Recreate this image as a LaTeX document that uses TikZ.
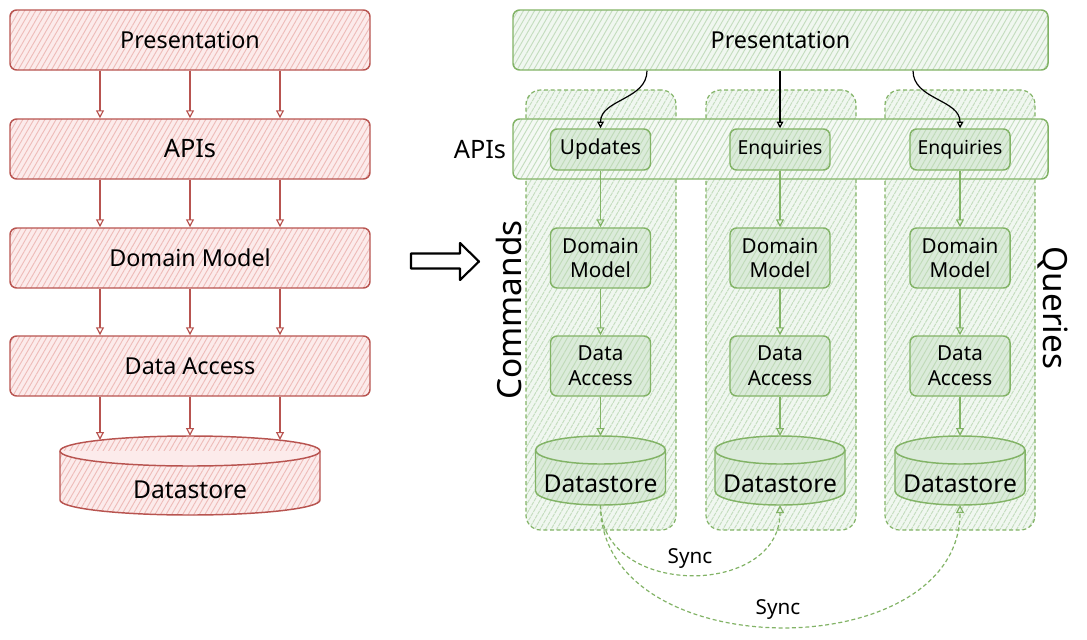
\documentclass[tikz,border=0pt]{standalone}
\usepackage{fontspec}
\setmainfont{Noto Sans}
\usetikzlibrary{patterns.meta,arrows.meta,calc}
\definecolor{redS}{HTML}{B85450}
\definecolor{redF}{HTML}{F8CECC}
\definecolor{grnS}{HTML}{82B366}
\definecolor{grnF}{HTML}{D5E8D4}
\def\px{0.75pt}
\newcommand\cylpath[4]{% node, rx, ry, colours
  \path[#4] ($(#1.north west)+(0,#3)$) -- ($(#1.south west)+(0,-#3)$)
     arc[start angle=180,end angle=360,x radius=#2*\px,y radius=#3*\px]
     -- ($(#1.north east)+(0,#3)$)
     arc[start angle=0,end angle=180,x radius=#2*\px,y radius=#3*\px] -- cycle;
  \path[#4,pattern=none,preaction={}] ($(#1.north west)+(0,#3)$)
     arc[start angle=180,end angle=360,x radius=#2*\px,y radius=#3*\px];
}
\tikzset{
  hatchR/.style={preaction={fill=redF!40}, pattern={Lines[angle=60,distance=3.6pt,line width=0.7pt]}, pattern color=redF!85!redS},
  hatchG/.style={preaction={fill=grnF!35}, pattern={Lines[angle=60,distance=3.6pt,line width=0.7pt]}, pattern color=grnF!80!grnS},
  redbox/.style={hatchR, draw=redS, line width=1.1pt, rounded corners=5pt, minimum width=360*\px, minimum height=60*\px, font=\fontsize{17.5}{21}\selectfont},
  gbox/.style={hatchG, draw=grnS, line width=1.1pt, rounded corners=5pt, minimum width=535*\px, minimum height=60*\px, font=\fontsize{17.5}{21}\selectfont},
  gcont/.style={hatchG, draw=grnS, line width=0.9pt, dash pattern=on 3pt off 2pt, rounded corners=11pt, minimum width=150*\px, minimum height=440*\px},
  gband/.style={preaction={fill=grnF!25}, pattern={Lines[angle=60,distance=3.6pt,line width=0.7pt]}, pattern color=grnF!80!grnS, draw=grnS, line width=1.1pt, rounded corners=5pt, minimum width=535*\px, minimum height=60*\px},
  gin/.style={preaction={fill=grnF!85}, pattern={Lines[angle=60,distance=3.6pt,line width=0.7pt]}, pattern color=grnF!75!grnS, draw=grnS, line width=1.1pt, rounded corners=5pt, minimum width=100*\px, minimum height=60*\px, align=center, font=\fontsize{15.5}{18.5}\selectfont, inner sep=1pt},
  hole/.style={inner sep=0pt, outer sep=0pt},
  rarrow/.style={draw=redS, line width=0.9pt, -{Triangle[open,length=6pt,width=6pt]}},
  garrow/.style={draw=grnS, line width=0.9pt, -{Triangle[open,length=6pt,width=6pt]}},
  barrow/.style={draw=black, line width=0.9pt, -{Triangle[open,length=5pt,width=5pt]}},
  sarrow/.style={draw=grnS, line width=0.9pt, dash pattern=on 3pt off 2pt, -{Triangle[open,length=6pt,width=6pt]}},
  lbl/.style={font=\fontsize{18.5}{22}\selectfont},
  slbl/.style={font=\fontsize{15.5}{18}\selectfont},
  big/.style={font=\fontsize{25}{30}\selectfont},
}
\begin{document}
\begin{tikzpicture}[x=0.75pt,y=-0.75pt]
\useasboundingbox (0,0) rectangle (1087,639);

% ---------- left stack ----------
\node[redbox] (presL) at (190,40) {Presentation};
\node[redbox, font=\fontsize{19}{22}\selectfont] (apiL) at (190,149) {APIs};
\node[redbox] (dmL) at (190,258) {Domain Model};
\node[redbox] (daL) at (190,366) {Data Access};
\node[hole, minimum width=260*\px, minimum height=79*\px] (dsL) at (190,475.5) {};
\cylpath{dsL}{130}{15}{hatchR, draw=redS, line width=1.1pt}
\node[lbl] (dsLt) at (190,490) {Datastore};

\coordinate (xa) at (100,0);
\coordinate (xc) at (280,0);
\foreach \a/\b in {presL/apiL, apiL/dmL, dmL/daL}{
  \draw[rarrow] (\a.south -| xa) -- (\b.north -| xa);
  \draw[rarrow] (\a) -- (\b);
  \draw[rarrow] (\a.south -| xc) -- (\b.north -| xc);
}
\draw[rarrow] (daL.south -| xa) -- ($(dsL.north -| xa)+(0,4)$);
\draw[rarrow] (daL) -- (dsL);
\draw[rarrow] (daL.south -| xc) -- ($(dsL.north -| xc)+(0,4)$);

% ---------- big arrow ----------
\draw[line width=1.6pt, line join=round] (411,253.5) -- (460,253.5) -- (460,243) -- (479,261.5) -- (460,280) -- (460,268.5) -- (411,268.5) -- cycle;

% ---------- right side ----------
\node[gcont] (c1) at (601,310) {};
\node[gcont] (c2) at (781,310) {};
\node[gcont] (c3) at (960,310) {};

\node[gbox] (presR) at (780.5,40) {Presentation};
\node[gband] (apiR) at (780.5,149) {};
\node[lbl, font=\fontsize{19}{22}\selectfont] (apiLbl) at (480,150) {APIs};

\node[gin, minimum height=41*\px] (up1) at (600.5,149.5) {Updates};
\node[gin, minimum height=41*\px, font=\fontsize{14.5}{17}\selectfont] (en2) at (780,149.5) {Enquiries};
\node[gin, minimum height=41*\px, font=\fontsize{14.5}{17}\selectfont] (en3) at (960,149.5) {Enquiries};

\node[gin] (dm1) at (600.5,258) {Domain\\Model};
\node[gin] (dm2) at (780,258) {Domain\\Model};
\node[gin] (dm3) at (960,258) {Domain\\Model};

\node[gin] (da1) at (600.5,366) {Data\\Access};
\node[gin] (da2) at (780,366) {Data\\Access};
\node[gin] (da3) at (960,366) {Data\\Access};

\foreach \n/\x in {ds1/600.5, ds2/780, ds3/960}{
  \node[hole, minimum width=130*\px, minimum height=69*\px] (\n) at (\x,470.5) {};
  \cylpath{\n}{65}{14}{preaction={fill=grnF!85}, pattern={Lines[angle=60,distance=3.6pt,line width=0.7pt]}, pattern color=grnF!75!grnS, draw=grnS, line width=1.1pt}
  \node[lbl] (\n t) at (\x,484) {Datastore};
}

\foreach \a/\b/\c/\d in {up1/dm1/da1/ds1, en2/dm2/da2/ds2, en3/dm3/da3/ds3}{
  \draw[garrow] (\a) -- (\b);
  \draw[garrow] (\b) -- (\c);
  \draw[garrow] (\c) -- (\d);
}

\coordinate (b1) at (647,0);
\coordinate (b3) at (913,0);
\draw[barrow] (presR.south -| b1) to[out=-90,in=90] (up1.north);
\draw[barrow] (presR.south -| en2) -- (en2.north);
\draw[barrow] (presR.south -| b3) to[out=-90,in=90] (en3.north);

\node[big, rotate=90] (cmd) at (509,310) {Commands};
\node[big, rotate=-90] (qry) at (1053,308) {Queries};

% ---------- sync ----------
\draw[sarrow] (ds1.south) to[out=-90,in=-90,looseness=1.33] (ds2.south);
\draw[sarrow] (ds1.south) to[out=-90,in=-90,looseness=1.16] (ds3.south);
\node[slbl] (sync1) at (690,558) {Sync};
\node[slbl] (sync2) at (778,609) {Sync};
\end{tikzpicture}
\end{document}
